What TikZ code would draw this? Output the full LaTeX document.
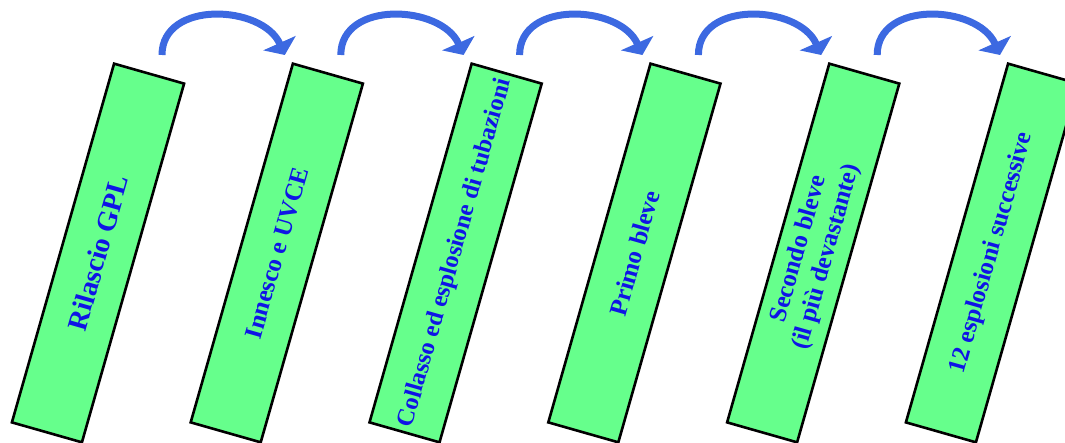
\documentclass[tikz,border=0pt]{standalone}
\usepackage{fontspec}
\setmainfont{Liberation Serif}
\usetikzlibrary{arrows.meta,calc}
\definecolor{boxgreen}{RGB}{102,255,140}
\definecolor{txtblue}{RGB}{15,20,230}
\definecolor{arrblue}{RGB}{60,105,225}
\tikzset{
  stagebox/.style={draw=black, line width=2.6pt, fill=boxgreen, rotate=74.1,
    minimum width=373pt, minimum height=72.8pt, inner sep=0pt, align=center,
    text=txtblue, font=\bfseries\fontsize{25}{29}\selectfont},
  flowarrow/.style={draw=arrblue, line width=7pt,
    -{Triangle[width=35pt,length=13pt]}, out=90, in=114, looseness=1.15}
}
\begin{document}
\begin{tikzpicture}[x=1pt,y=1pt]
\useasboundingbox (0,0) rectangle (1065,443);
\clip (0,0) rectangle (1065,443);
\node[stagebox, font=\bfseries\fontsize{28}{32}\selectfont] (b1) at (98,190) {Rilascio GPL};
\node[stagebox] (b2) at (276.8,190) {Innesco e UVCE};
\node[stagebox, font=\bfseries\fontsize{24.5}{28}\selectfont] (b3) at (455.6,190) {Collasso ed esplosione di tubazioni};
\node[stagebox] (b4) at (634.4,190) {Primo bleve};
\node[stagebox] (b5) at (813.2,190) {Secondo bleve\\(il più devastante)};
\node[stagebox] (b6) at (992,190) {12 esplosioni successive};
\foreach \i/\j in {1/2,2/3,3/4,4/5,5/6}{
  \coordinate (s\i) at ($(b\i.center)+(64,198)$);
  \coordinate (e\i) at ($(b\j.center)+(8,198)$);
  \draw[flowarrow] (s\i) to (e\i);
}
\end{tikzpicture}
\end{document}
